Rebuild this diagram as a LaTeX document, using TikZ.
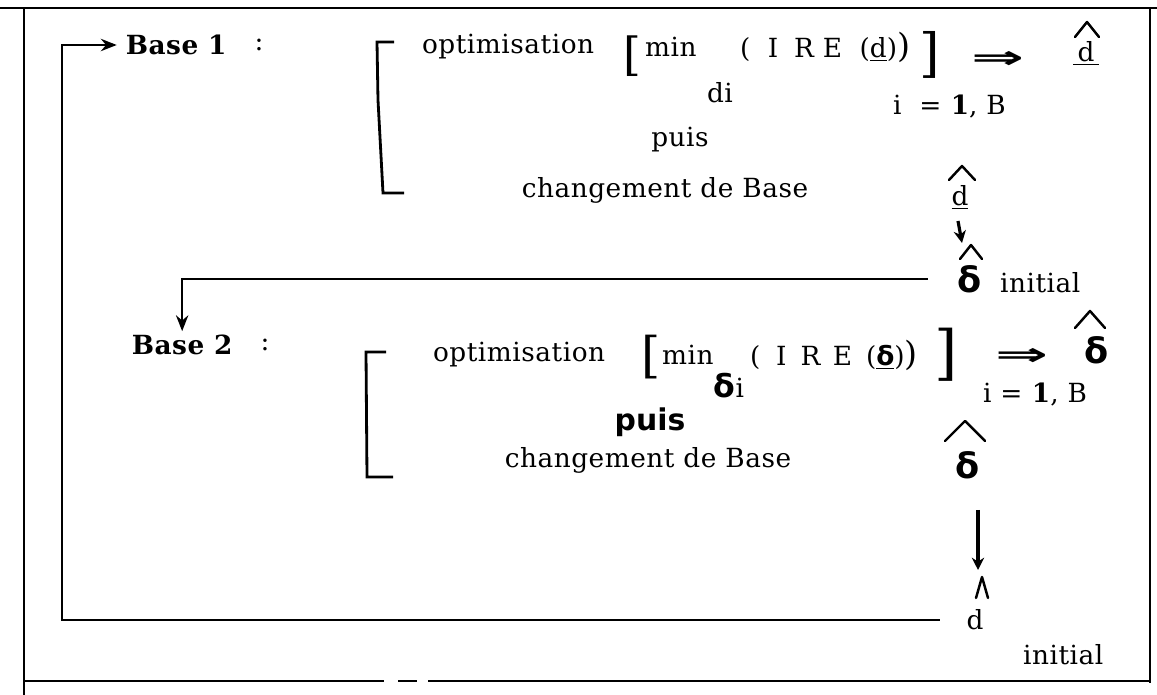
\documentclass[tikz,border=0pt]{standalone}
\usepackage{fontspec}
\setmainfont{DejaVu Serif}[LetterSpace=2]
\newfontfamily\handfont{DejaVu Sans}
\usetikzlibrary{arrows.meta,calc,positioning}
% chapeau trace au-dessus d'un noeud : noeud, decalage x, demi-largeur, sommet, base
\newcommand{\chapeau}[5]{\draw[hatline] ($(#1)+(#2-#3,#5)$) -- ($(#1)+(#2,#4)$) -- ($(#1)+(#2+#3,#5)$);}

\begin{document}
\begin{tikzpicture}[x=0.02cm,y=-0.02cm,>={Stealth[length=9pt,width=7pt]}]
    \tikzset{txt/.style={inner sep=1pt,font=\fontsize{15}{18}\selectfont},
      basetxt/.style={inner sep=2pt,font=\bfseries\fontsize{15}{18}\selectfont},
      brk/.style={inner sep=0pt,font=\fontsize{26}{26}\selectfont},
      implies/.style={inner sep=0pt,font=\handfont\bfseries\fontsize{18}{18}\selectfont},
      handtxt/.style={inner sep=1pt,font=\handfont\bfseries\fontsize{20}{20}\selectfont},
      frameline/.style={line width=1pt},
      loopline/.style={line width=1.4pt},
      bracket/.style={line width=1.6pt},
      hatline/.style={line width=1.4pt,line cap=round,line join=round},
      handarrow/.style={-{Stealth[length=7pt,width=7pt]},line width=1.8pt}}
    \useasboundingbox (0,0) rectangle (1157,695);
    % cadre
    \draw[frameline] (0,8) -- (1157,8);
    \draw[frameline] (24,8) -- (24,695);
    \draw[frameline] (1150,8) -- (1150,683);
    \draw[frameline] (24,681) -- (384,681) (398,681) -- (417,681) (428,681) -- (1150,681);
    % Base 1
    \node[basetxt,anchor=west] (base1) at (122,45) {Base 1};
    \node[txt] (colon1) at (259,45) {:};
    \draw[bracket] (394,42) -- (377,42) -- (378,100) -- (383,193) -- (404,193);
    \node[txt,anchor=west] (opt1) at (420,47) {optimisation};
    \node[brk] (lb1) at (632,56) {[};
    \node[txt,anchor=west] (min1) at (643,47) {min};
    \node[txt] (di) at (720,93) {di};
    \node[txt,anchor=west] (ire1) at (738,47) {(\hspace{10pt}I\hspace{9pt}R\hspace{5pt}E\hspace{10pt}(\underline{d}){\fontsize{19}{19}\selectfont)}};
    \node[brk,font=\fontsize{30}{30}\selectfont] (rb1) at (930,55) {]};
    \node[implies] (imp1) at (998,60) {\scalebox{2}[1]{⇒}};
    \node[txt] (dhat1) at (1086,53) {\underline{\,d\,}};
    \node[txt,anchor=west] (ib1) at (891,107) {i\ \ = \textbf{1}, B};
    \node[txt] (puis1) at (680,140) {puis};
    \node[txt] (chg1) at (665,190) {changement de Base};
    \node[txt] (dhat2) at (960,197) {\underline{d}};
    \node[handtxt] (deltainit) at (970,279) {δ};
    \node[txt,anchor=west] (init1) at (998,283) {initial};
    % Base 2
    \node[basetxt,anchor=west] (base2) at (128,345) {Base 2};
    \node[txt] (colon2) at (265,345) {:};
    \draw[bracket] (386,352) -- (366,352) -- (367,477) -- (393,477);
    \node[txt,anchor=west] (opt2) at (431,355) {optimisation};
    \node[brk,font=\fontsize{28}{28}\selectfont] (lb2) at (651,357) {[};
    \node[txt,anchor=west] (min2) at (660,355) {min};
    \node[txt] (deltai) at (729,386) {{\handfont\bfseries\fontsize{18}{18}\selectfont δ}i};
    \node[txt,anchor=west] (ire2) at (748,355) {(\hspace{9pt}I\hspace{8pt}R\hspace{7pt}E\hspace{8pt}(\underline{\handfont\bfseries δ}){\fontsize{19}{19}\selectfont)}};
    \node[brk,font=\fontsize{34}{34}\selectfont] (rb2) at (946,355) {]};
    \node[implies] (imp2) at (1022,357) {\scalebox{2}[1]{⇒}};
    \node[handtxt] (deltahat1) at (1097,350) {δ};
    \node[txt,anchor=west] (ib2) at (981,395) {i = \textbf{1}, B};
    \node[handtxt,font=\handfont\bfseries\fontsize{17}{18}\selectfont] (puis2) at (650,422) {puis};
    \node[txt] (chg2) at (648,460) {changement de Base};
    \node[handtxt] (deltahat2) at (968,465) {δ};
    \node[txt] (dinit) at (975,620) {d};
    \node[txt,anchor=west] (init2) at (1021,655) {initial};
    % chapeaux
    \chapeau{dhat1}{1}{12}{-31}{-16}
    \chapeau{dhat2}{2}{13}{-31}{-17}
    \chapeau{deltainit}{1}{11}{-34}{-20}
    \chapeau{deltahat1}{-7}{15}{-39}{-22}
    \chapeau{deltahat2}{-3}{20}{-44}{-24}
    \chapeau{dinit}{7}{6}{-43}{-22}
    % passages d'une base a l'autre
    \draw[handarrow] ($(dhat2)+(-2,24)$) -- ($(deltainit)+(-8,-36)$);
    \draw[handarrow] ($(deltahat2)+(10,45)$) -- ($(dinit)+(3,-50)$);
    \draw[->,loopline] ([xshift=-16pt]deltainit.west) -| (base2.north);
    \coordinate (loopx) at (62,0);
    \draw[->,loopline,shorten >=3pt] ([xshift=-14pt]dinit.west) -- (dinit.west -| loopx) |- (base1.west);
\end{tikzpicture}
\end{document}
